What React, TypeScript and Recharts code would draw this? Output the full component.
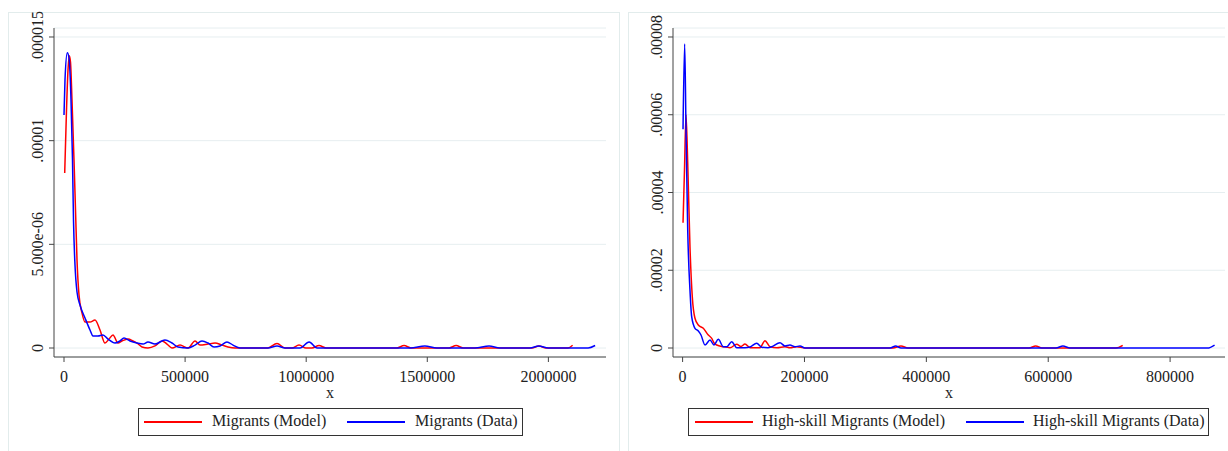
import { LineChart, Line, XAxis, YAxis, CartesianGrid } from "recharts";

// left panel: all migrants
const leftModelX = [2900, 10300, 16500, 21900, 26800, 33000, 41300, 47500, 53700, 61900, 74300, 86700, 107400, 128000, 148600, 169300, 185800, 202300, 223000, 239500, 264300, 284900, 301400, 322100, 346800, 375700, 404600, 425300, 445900, 479000, 512000, 541000, 561500, 594600, 623500, 652400, 677200, 706100, 842000, 879500, 912500, 941000, 970300, 999200, 1024000, 1053000, 1082000, 1375000, 1404000, 1433000, 1590000, 1619000, 1648000, 1932000, 1961000, 1990000, 2081000, 2100000];
const leftModelY = [8.44e-6, 1.148e-5, 1.341e-5, 1.41e-5, 1.379e-5, 1.196e-5, 9.07e-6, 6.66e-6, 4.24e-6, 2.56e-6, 1.69e-6, 1.25e-6, 1.25e-6, 1.35e-6, 8.7e-7, 2.4e-7, 4.3e-7, 6.3e-7, 2.4e-7, 3.4e-7, 4.3e-7, 3.4e-7, 2.4e-7, 5e-8, 0, 1e-7, 3.4e-7, 1.9e-7, 0, 1.4e-7, 0, 3.4e-7, 1.4e-7, 1.9e-7, 2.4e-7, 1.4e-7, 5e-8, 0, 0, 2.2e-7, 0, 0, 1.4e-7, 0, 0, 1.2e-7, 0, 0, 1.2e-7, 0, 0, 1.2e-7, 0, 0, 1e-7, 0, 0, 1.3e-7];
const leftDataX = [0, 4100, 13600, 20600, 28900, 35100, 39200, 45400, 53700, 66100, 86700, 107400, 119700, 140400, 161000, 181700, 210600, 231200, 247700, 272500, 301400, 326200, 346800, 375700, 417000, 445900, 470700, 512000, 541000, 569800, 594600, 619400, 644000, 673000, 697800, 726700, 842000, 879500, 912500, 974400, 1012000, 1045000, 1430000, 1490000, 1540000, 1697000, 1755000, 1800000, 1924000, 1960000, 2000000, 2164000, 2193000];
const leftDataY = [1.124e-5, 1.293e-5, 1.424e-5, 1.399e-5, 1.196e-5, 9.07e-6, 6.17e-6, 4.0e-6, 2.7e-6, 2.07e-6, 1.45e-6, 8.7e-7, 5.8e-7, 5.8e-7, 6.3e-7, 4.3e-7, 2.4e-7, 3.4e-7, 4.8e-7, 3.4e-7, 2.4e-7, 1.9e-7, 2.9e-7, 1.9e-7, 3.9e-7, 2.4e-7, 5e-8, 0, 1.4e-7, 3.4e-7, 2.4e-7, 5e-8, 1e-7, 2.9e-7, 1.4e-7, 0, 0, 1e-7, 0, 0, 2.9e-7, 0, 0, 1e-7, 0, 0, 1e-7, 0, 0, 1e-7, 0, 0, 1.2e-7];
const leftXTicks = [0, 500000, 1000000, 1500000, 2000000];
const leftYTicks = [0, 0.000005, 0.00001, 0.000015];
const leftYLabels = ["0", "5.000e-06", ".00001", ".000015"];

// right panel: high-skill migrants
const rightModelX = [700, 3100, 5600, 8400, 12100, 15900, 20300, 25800, 34000, 42200, 47800, 52000, 56000, 66800, 77800, 88800, 95800, 102400, 110600, 127000, 135200, 143400, 154900, 168000, 176200, 187200, 200900, 345100, 358400, 369900, 568400, 579400, 589800, 711200, 722200];
const rightModelY = [3.223e-5, 4.578e-5, 5.993e-5, 4.758e-5, 2.605e-5, 1.319e-5, 7.64e-6, 5.92e-6, 5.07e-6, 3.34e-6, 2.49e-6, 1.21e-6, 7.7e-7, 3.3e-7, 8e-8, 9.5e-7, 3.9e-7, 1.03e-6, 8e-8, 8e-8, 1.88e-6, 3.3e-7, 8e-8, 3.3e-7, 8e-8, 3.3e-7, 0, 0, 5.1e-7, 0, 0, 5.1e-7, 0, 0, 6.9e-7];
const rightDataX = [700, 3400, 5600, 8400, 12100, 14900, 20300, 25800, 30200, 36800, 45000, 51500, 58600, 66800, 72400, 80600, 88800, 102400, 110600, 121600, 129800, 140100, 146200, 159800, 168000, 176200, 184400, 192700, 200900, 340300, 349700, 358400, 612700, 624100, 635700, 861500, 873000];
const rightDataY = [5.625e-5, 7.819e-5, 5.607e-5, 3.035e-5, 1.492e-5, 8.05e-6, 5.07e-6, 4.37e-6, 3.34e-6, 7.7e-7, 2.06e-6, 7.7e-7, 2.24e-6, 3.3e-7, 3.3e-7, 1.62e-6, 8e-8, 8e-8, 2.6e-7, 1.21e-6, 1.8e-7, 8e-8, 3.3e-7, 1.36e-6, 5.1e-7, 7.7e-7, 3.3e-7, 5.1e-7, 0, 0, 5.1e-7, 0, 0, 5.1e-7, 0, 0, 7.7e-7];
const rightXTicks = [0, 200000, 400000, 600000, 800000];
const rightYTicks = [0, 0.00002, 0.00004, 0.00006, 0.00008];
const rightYLabels = ["0", ".00002", ".00004", ".00006", ".00008"];

const serif = '"Liberation Serif", "Times New Roman", serif';
const axisColor = "#444";

const toPoints = (xs: number[], ys: number[]) => xs.map((x, i) => ({ x, y: ys[i] }));

type PanelProps = {
  left: number;
  marginLeft: number;
  marginRight: number;
  xDomain: [number, number];
  yDomain: [number, number];
  xTicks: number[];
  yTicks: number[];
  yLabels: string[];
  model: { x: number; y: number }[];
  data: { x: number; y: number }[];
  modelName: string;
  dataName: string;
  legendLeft: number;
  legendWidth: number;
  legendPos: number[];
};

const Panel = (p: PanelProps) => {
  const plotLeft = p.marginLeft + 44;
  const plotRight = 614 - p.marginRight;
  const YTick = ({ y, payload }: any) => {
    const i = p.yTicks.indexOf(payload.value);
    const bx = plotLeft - 10.5;
    return (
      <text x={bx} y={y} transform={`rotate(-90, ${bx}, ${y})`} textAnchor="middle"
        fontFamily={serif} fontSize={16} fill="#222">
        {p.yLabels[i]}
      </text>
    );
  };
  const XTick = ({ x, payload }: any) => (
    <text x={x} y={382} textAnchor="middle" fontFamily={serif} fontSize={16} fill="#222">
      {payload.value}
    </text>
  );
  return (
    <div style={{ position: "absolute", left: p.left, top: 0, width: 614, height: 451 }}>
      <LineChart width={614} height={451}
        margin={{ top: 28, right: p.marginRight, bottom: 64, left: p.marginLeft }}>
        <CartesianGrid horizontal vertical={false} stroke="#e6eef0" />
        <XAxis type="number" dataKey="x" domain={p.xDomain} ticks={p.xTicks} allowDataOverflow
          height={30} tickSize={5} stroke={axisColor} tick={<XTick />} />
        <YAxis type="number" domain={p.yDomain} ticks={p.yTicks} allowDataOverflow width={44}
          tickSize={5} stroke={axisColor} tick={<YTick />} />
        <Line data={p.model} dataKey="y" type="monotone" stroke="#ff0000" strokeWidth={1.5}
          dot={false} isAnimationActive={false} />
        <Line data={p.data} dataKey="y" type="monotone" stroke="#0000ff" strokeWidth={1.5}
          dot={false} isAnimationActive={false} />
      </LineChart>
      <div style={{ position: "absolute", left: (plotLeft + plotRight) / 2 - 10, width: 20, top: 386,
        height: 14, lineHeight: "14px", textAlign: "center", fontFamily: serif, fontSize: 16, color: "#222" }}>x</div>
      <div style={{ position: "absolute", left: p.legendLeft - p.left, top: 408, width: p.legendWidth,
        height: 28, border: "1.5px solid #333", boxSizing: "border-box", fontFamily: serif, fontSize: 16 }}>
        {[
          { name: p.modelName, color: "#ff0000" },
          { name: p.dataName, color: "#0000ff" },
        ].map((it, i) => (
          <div key={it.name}>
            <div style={{ position: "absolute", left: p.legendPos[i * 2], top: 12, width: 58, height: 1.5, background: it.color }} />
            <div style={{ position: "absolute", left: p.legendPos[i * 2 + 1], top: 3, whiteSpace: "nowrap", color: "#222" }}>{it.name}</div>
          </div>
        ))}
      </div>
    </div>
  );
};

export default function App() {
  return (
    <div style={{ position: "absolute", left: 0, top: 0, width: 1228, height: 451, background: "#fff", overflow: "hidden" }}>
      <div style={{ position: "absolute", left: 8, top: 12, width: 610, height: 445, borderLeft: "1px solid #e2ecec", borderTop: "1px solid #e2ecec", borderRight: "1px solid #e2ecec" }} />
      <div style={{ position: "absolute", left: 628, top: 12, width: 610, height: 445, borderLeft: "1px solid #e2ecec", borderTop: "1px solid #e2ecec" }} />
      <Panel left={0} marginLeft={10} marginRight={8}
        xDomain={[-41300, 2237900]} yDomain={[-4.34e-7, 1.5434e-5]}
        xTicks={leftXTicks} yTicks={leftYTicks} yLabels={leftYLabels}
        model={toPoints(leftModelX, leftModelY)} data={toPoints(leftDataX, leftDataY)}
        modelName="Migrants (Model)" dataName="Migrants (Data)"
        legendLeft={138} legendWidth={385} legendPos={[5, 73, 208, 276]} />
      <Panel left={614} marginLeft={15} marginRight={3}
        xDomain={[-15750, 890100]} yDomain={[-2.315e-6, 8.2315e-5]}
        xTicks={rightXTicks} yTicks={rightYTicks} yLabels={rightYLabels}
        model={toPoints(rightModelX, rightModelY)} data={toPoints(rightDataX, rightDataY)}
        modelName="High-skill Migrants (Model)" dataName="High-skill Migrants (Data)"
        legendLeft={688} legendWidth={521} legendPos={[6, 73, 277, 344]} />
    </div>
  );
}
